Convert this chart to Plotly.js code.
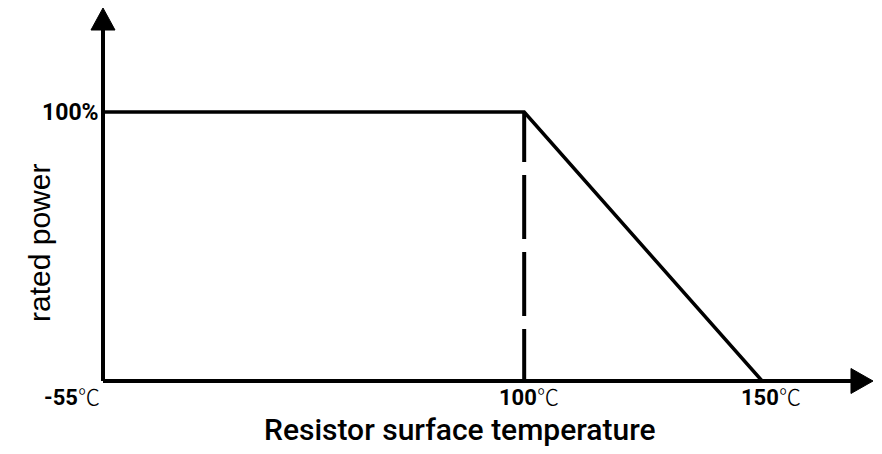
<!DOCTYPE html>
<html>
<head>
<meta charset="utf-8">
<script src="https://cdn.plot.ly/plotly-3.0.1.min.js"></script>
<style>html,body{margin:0;padding:0;background:#fff;}#chart{width:882px;height:454px;}</style>
</head>
<body>
<div id="chart"></div>
<script>
// Derating curve (schematic, x axis not to scale)
const tempLabels = ['-55', '100', '150'];          // temperature tick labels (℃)
const tempPos = [0, 54.7, 85.6];                   // schematic positions of those temperatures on the axis
const ratedPower = [100, 100, 0];                  // rated power (%) at each temperature
const powerLabel = '100%';
const xTitle = 'Resistor surface temperature';
const yTitle = 'rated power';

const black = '#000000';
const numFont = 'Roboto, "Liberation Sans", sans-serif';
const degFont = "'Noto Sans CJK SC', 'DejaVu Sans', sans-serif";

const curve = {
  x: tempPos, y: ratedPower, type: 'scatter', mode: 'lines',
  line: {color: black, width: 3.5}, cliponaxis: false, hoverinfo: 'skip', showlegend: false
};
const knee = {
  x: [tempPos[1], tempPos[1]], y: [ratedPower[1], 0], type: 'scatter', mode: 'lines',
  line: {color: black, width: 4, dash: '50px,13px,64px,13px,64px,13px,50px'},
  cliponaxis: false, hoverinfo: 'skip', showlegend: false
};

const tickShift = [-1, 5, 9];
const tickAnchor = ['right', 'center', 'center'];
const annotations = tempLabels.map((t, i) => ({
  x: tempPos[i], y: 0, xref: 'x', yref: 'y',
  text: '<b>' + t + '</b><span style="font-family:' + degFont + ';font-weight:300">℃</span>',
  showarrow: false, xanchor: tickAnchor[i], yanchor: 'top', xshift: tickShift[i], yshift: 4,
  font: {family: numFont, size: 22, color: black}
}));
annotations.push({
  x: 0, y: ratedPower[0], xref: 'paper', yref: 'y', text: '<b>' + powerLabel + '</b>',
  showarrow: false, xanchor: 'right', yanchor: 'middle', xshift: -2,
  font: {family: numFont, size: 23, color: black}
});
annotations.push({
  x: -0.0818, y: 0.37, xref: 'paper', yref: 'paper', text: yTitle, textangle: -90,
  showarrow: false, xanchor: 'center', yanchor: 'middle',
  font: {family: '"Liberation Sans", Arial, sans-serif', size: 30, color: black}
});
annotations.push({
  x: 0.464, y: -0.131, xref: 'paper', yref: 'paper', text: xTitle,
  showarrow: false, xanchor: 'center', yanchor: 'middle',
  font: {family: 'Roboto, sans-serif', size: 30, weight: 500, color: black}
});

const shapes = [
  {type: 'line', xref: 'paper', yref: 'paper', x0: 0, x1: 0.975, y0: 0, y1: 0, line: {color: black, width: 4}},
  {type: 'line', xref: 'paper', yref: 'paper', x0: 0, x1: 0, y0: 0, y1: 0.965, line: {color: black, width: 4}},
  {type: 'path', xref: 'paper', yref: 'paper', path: 'M -0.0156 0.941 L 0 1 L 0.0156 0.941 Z', fillcolor: black, line: {color: black, width: 1}},
  {type: 'path', xref: 'paper', yref: 'paper', path: 'M 0.9714 -0.0335 L 1 0 L 0.9714 0.0335 Z', fillcolor: black, line: {color: black, width: 1}}
];

const layout = {
  width: 882, height: 454,
  margin: {l: 103, r: 9, t: 8, b: 73, pad: 0},
  paper_bgcolor: '#ffffff', plot_bgcolor: '#ffffff',
  xaxis: {range: [0, 100], showgrid: false, zeroline: false, showline: false, showticklabels: false, ticks: '', fixedrange: true},
  yaxis: {range: [0, 138.7], showgrid: false, zeroline: false, showline: false, showticklabels: false, ticks: '', fixedrange: true},
  shapes: shapes,
  annotations: annotations,
  showlegend: false
};

Plotly.newPlot('chart', [knee, curve], layout, {displayModeBar: false, staticPlot: true});
</script>
</body>
</html>
